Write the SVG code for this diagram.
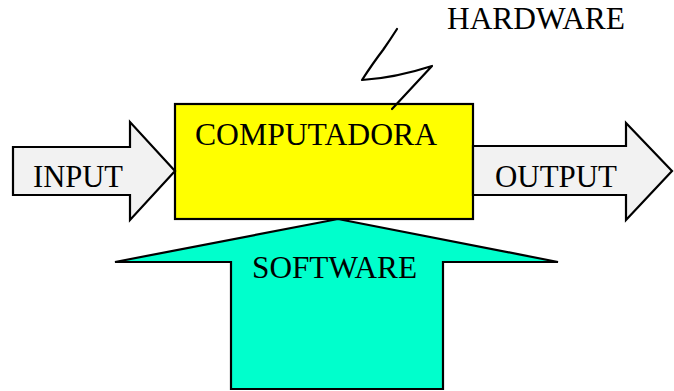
<svg xmlns="http://www.w3.org/2000/svg" width="674" height="391" viewBox="0 0 674 391">
  <style>
    .lbl { font-family: "Liberation Serif", "Times New Roman", serif; font-size: 31px; fill: #000; }
    .arrow { fill: #F2F2F2; stroke: #000; stroke-width: 2.2; stroke-linejoin: miter; }
    .edge { fill: none; stroke: #000; stroke-width: 2.2; stroke-linecap: round; stroke-linejoin: round; }
  </style>

  <!-- central computer box -->
  <g id="computadora">
    <rect x="175" y="104" width="298" height="115" fill="#FFFF00" stroke="#000" stroke-width="2.2"/>
    <text class="lbl" x="195" y="145" textLength="242" lengthAdjust="spacingAndGlyphs">COMPUTADORA</text>
  </g>

  <!-- input / output flows and the hardware link -->
  <g id="connectors">
    <g id="input">
      <polygon class="arrow" points="13,147 130,147 130,122 175,171 130,220 130,195 13,195"/>
      <text class="lbl" x="33" y="187" textLength="90" lengthAdjust="spacingAndGlyphs">INPUT</text>
    </g>
    <g id="output">
      <polygon class="arrow" points="473,146 626,146 626,123 672,171 626,220 626,195 473,195"/>
      <text class="lbl" x="495" y="187" textLength="122" lengthAdjust="spacingAndGlyphs">OUTPUT</text>
    </g>
    <!-- hardware lightning stroke -->
    <path id="hardware-link" class="edge" d="M397,29 Q390,40 383,50 Q373,63 362,80 Q395,78 432,66 L392,109"/>
  </g>

  <!-- software feeding up into the computer -->
  <g id="software">
    <polygon points="338,219 558,262 443,262 443,389 231,389 231,262 115,262" fill="#00FFCC" stroke="#000" stroke-width="2.2" stroke-linejoin="miter"/>
    <text class="lbl" x="252" y="278" textLength="165" lengthAdjust="spacingAndGlyphs">SOFTWARE</text>
  </g>

  <g id="hardware">
    <text class="lbl" x="447" y="29" textLength="178" lengthAdjust="spacingAndGlyphs">HARDWARE</text>
  </g>
</svg>
